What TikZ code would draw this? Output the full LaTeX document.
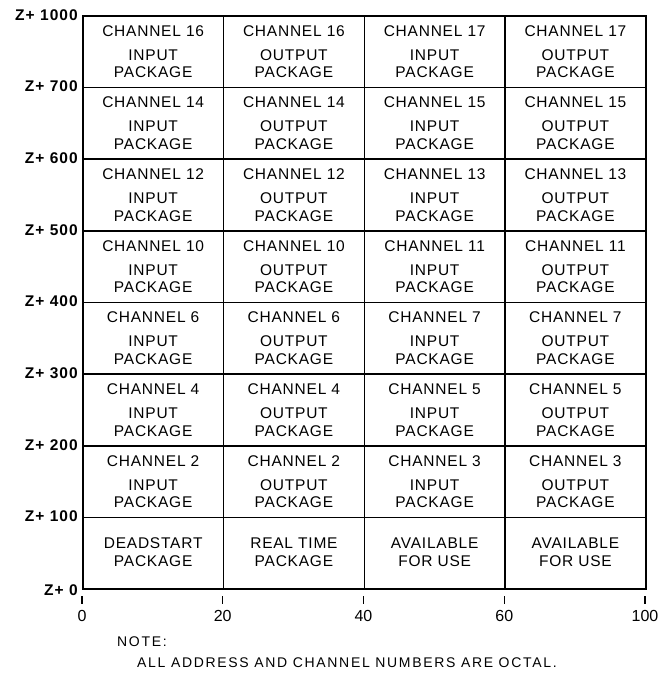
\documentclass[tikz,border=0pt]{standalone}
\usepackage{fontspec}
\setmainfont{Liberation Sans}
\begin{document}
\begin{tikzpicture}[x=1pt,y=-1pt,
  cell/.style={draw, line width=1.6pt, minimum width=140.75pt, minimum height=71.65pt, inner sep=0pt, anchor=north west},
  txt/.style={font=\fontsize{15.5}{17}\selectfont\addfontfeatures{LetterSpace=5}, inner sep=0pt},
  zlab/.style={font=\bfseries\fontsize{15.5}{16}\selectfont\addfontfeatures{LetterSpace=7}, inner sep=0pt, anchor=east},
  tlab/.style={font=\fontsize{16}{16}\selectfont, inner sep=0pt},
  notetxt/.style={font=\fontsize{14}{15}\selectfont\addfontfeatures{LetterSpace=12}, inner sep=0pt, anchor=west},
  tick/.style={line width=1.4pt}]
\useasboundingbox (0,0) rectangle (669,673);
% channel rows
\foreach \r/\a/\b in {0/16/17,1/14/15,2/12/13,3/10/11,4/6/7,5/4/5,6/2/3} {
  \foreach \c/\ch/\kind in {0/\a/INPUT,1/\a/OUTPUT,2/\b/INPUT,3/\b/OUTPUT} {
    \node[cell] (c\r\c) at ({82+\c*140.75},{15+\r*71.65}) {};
    \node[txt] (c\r\c a) at ([yshift=-16pt]c\r\c.north) {CHANNEL \ch};
    \node[txt] (c\r\c b) at ([yshift=-40pt]c\r\c.north) {\kind};
    \node[txt] (c\r\c c) at ([yshift=-57.5pt]c\r\c.north) {PACKAGE};
  }
}
% bottom row
\foreach \c/\la/\lb in {0/DEADSTART/PACKAGE,1/REAL TIME/PACKAGE,2/AVAILABLE/FOR USE,3/AVAILABLE/FOR USE} {
  \node[cell] (c7\c) at ({82+\c*140.75},{15+7*71.65}) {};
  \node[txt] (c7\c a) at ([yshift=-27pt]c7\c.north) {\la};
  \node[txt] (c7\c b) at ([yshift=-44.3pt]c7\c.north) {\lb};
}
% address labels
\foreach \r/\t in {0/1000,1/700,2/600,3/500,4/400,5/300,6/200,7/100} {
  \node[zlab] (z\r) at ([xshift=-4pt]c\r0.north west) {Z+ \t};
}
\node[zlab] (z8) at ([xshift=-4pt]c70.south west) {Z+ 0};
% ticks
\foreach \c/\t in {0/0,1/20,2/40,3/60,4/100} {
  \draw[tick] ({82+\c*140.75},596) -- ({82+\c*140.75},604);
  \node[tlab] (t\c) at ({82+\c*140.75},616) {\t};
}
% note
\node[notetxt] (note) at (117,642) {NOTE:};
\node[notetxt] (note2) at (137,663) {ALL ADDRESS AND CHANNEL NUMBERS ARE OCTAL.};
\end{tikzpicture}
\end{document}
